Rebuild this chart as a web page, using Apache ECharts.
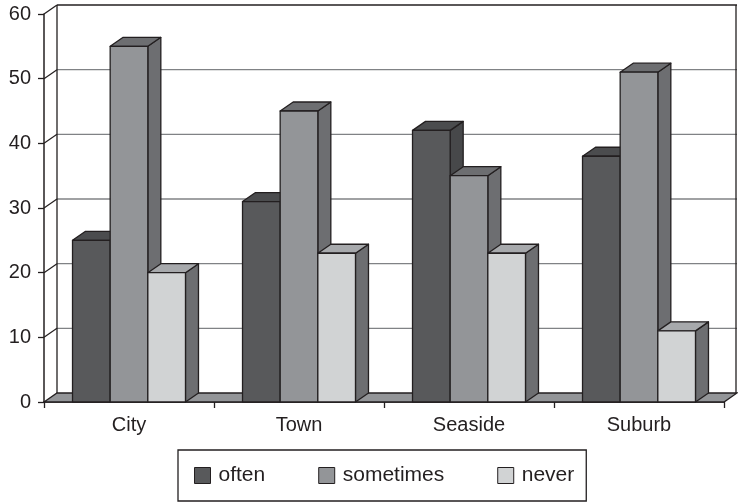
<!DOCTYPE html>
<html>
<head>
<meta charset="utf-8">
<script src="https://cdn.jsdelivr.net/npm/echarts@6/dist/echarts.min.js"></script>
<style>html,body{margin:0;padding:0;background:#fff;}#c{width:738px;height:504px;}</style>
</head>
<body>
<div id="c"></div>
<script>
var categories = ['City', 'Town', 'Seaside', 'Suburb'];
var often = [25, 31, 42, 38];
var sometimes = [55, 45, 35, 51];
var never = [20, 23, 23, 11];
var yTicks = [0, 10, 20, 30, 40, 50, 60];
var seriesNames = ['often', 'sometimes', 'never'];

var DX = 13, DY = -9, INK = '#231f20';
var styles = [
  {front: '#58595b', top: '#4b4c4e', side: '#47484a'},
  {front: '#939598', top: '#6d6e71', side: '#6d6e71'},
  {front: '#d1d3d4', top: '#a7a9ac', side: '#6d6e71'}
];

function barRender(idx) {
  return function (params, api) {
    var cat = api.value(0), val = api.value(1);
    var base = api.coord([cat, 0]);
    var top = api.coord([cat, val]);
    var band = api.size([1, 0])[0];
    var w = band * 0.2215;
    var x = base[0] - 1.5 * w + idx * w;
    var yt = top[1], yb = base[1];
    var st = styles[idx];
    var line = {stroke: INK, lineWidth: 1.3, lineJoin: 'round'};
    return {
      type: 'group',
      children: [
        {type: 'polygon', shape: {points: [[x + w, yt], [x + w + DX, yt + DY], [x + w + DX, yb + DY], [x + w, yb]]},
         style: Object.assign({fill: st.side}, line)},
        {type: 'polygon', shape: {points: [[x, yt], [x + DX, yt + DY], [x + w + DX, yt + DY], [x + w, yt]]},
         style: Object.assign({fill: st.top}, line)},
        {type: 'rect', shape: {x: x, y: yt, width: w, height: yb - yt},
         style: Object.assign({fill: st.front}, line)}
      ]
    };
  };
}

function wallRender(params, api) {
  var v = api.value(1);
  var cs = params.coordSys;
  var x0 = cs.x, x1 = cs.x + cs.width;
  var y = api.coord([0, v])[1];
  var y0 = api.coord([0, 0])[1];
  var ch = [];
  if (v === 0) {
    ch.push({type: 'polygon', shape: {points: [[x0, y], [x0 + DX, y + DY], [x1 + DX, y + DY], [x1, y]]},
      style: {fill: '#939598', stroke: INK, lineWidth: 1.3}});
  } else if (v === yTicks[yTicks.length - 1]) {
    ch.push({type: 'line', shape: {x1: x0 + DX, y1: y + DY, x2: x1 + DX, y2: y + DY}, style: {stroke: INK, lineWidth: 1.5}});
    ch.push({type: 'line', shape: {x1: x0, y1: y, x2: x0 + DX, y2: y + DY}, style: {stroke: INK, lineWidth: 1.3}});
    ch.push({type: 'line', shape: {x1: x0 + DX, y1: y + DY, x2: x0 + DX, y2: y0 + DY}, style: {stroke: INK, lineWidth: 1.3}});
    ch.push({type: 'line', shape: {x1: x1 + DX - 1, y1: y + DY, x2: x1 + DX - 1, y2: y0 + DY}, style: {stroke: INK, lineWidth: 1.3}});
  } else {
    ch.push({type: 'line', shape: {x1: x0 + DX, y1: y + DY, x2: x1 + DX, y2: y + DY}, style: {stroke: '#808285', lineWidth: 1.3}});
    ch.push({type: 'line', shape: {x1: x0, y1: y, x2: x0 + DX, y2: y + DY}, style: {stroke: INK, lineWidth: 1.2}});
  }
  return {type: 'group', children: ch};
}

var chart = echarts.init(document.getElementById('c'), null, {renderer: 'canvas'});
var valueSets = [often, sometimes, never];
var series = [{
  type: 'custom', name: 'walls', renderItem: wallRender, z: 1, silent: true,
  data: yTicks.map(function (v) { return [0, v]; }),
  clip: false
}];
valueSets.forEach(function (vals, i) {
  series.push({
    type: 'custom', name: seriesNames[i], renderItem: barRender(i), z: 2, clip: false,
    itemStyle: {color: styles[i].front, borderColor: INK, borderWidth: 1},
    data: vals.map(function (v, j) { return [j, v]; })
  });
});

chart.setOption({
  animation: false,
  backgroundColor: '#fff',
  textStyle: {fontFamily: 'Liberation Sans, Arial, sans-serif', color: INK},
  grid: {left: 44, right: 14, top: 14, bottom: 102, containLabel: false},
  xAxis: {
    type: 'category', data: categories, boundaryGap: true,
    axisLine: {show: true, lineStyle: {color: INK, width: 1.5}},
    axisTick: {show: true, length: 6, lineStyle: {color: INK, width: 1.3}},
    axisLabel: {fontSize: 20, color: INK, margin: 13, fontFamily: 'Liberation Sans'},
    splitLine: {show: false}
  },
  yAxis: {
    type: 'value', min: 0, max: 60, interval: 10,
    axisLine: {show: true, lineStyle: {color: INK, width: 1.5}},
    axisTick: {show: true, length: 6, lineStyle: {color: INK, width: 1.3}},
    axisLabel: {fontSize: 20, color: INK, margin: 13, fontFamily: 'Liberation Sans'},
    splitLine: {show: false}
  },
  legend: {
    data: seriesNames,
    left: 178, top: 450,
    orient: 'horizontal',
    padding: [15, 12, 15, 16],
    itemGap: 53, itemWidth: 16, itemHeight: 16,
    icon: 'rect',
    borderColor: INK, borderWidth: 1.3, borderRadius: 0,
    itemStyle: {borderColor: INK, borderWidth: 1},
    textStyle: {fontSize: 21, color: INK, fontFamily: 'Liberation Sans', padding: [0, 0, 0, 3]}
  },
  series: series
});
</script>
</body>
</html>
